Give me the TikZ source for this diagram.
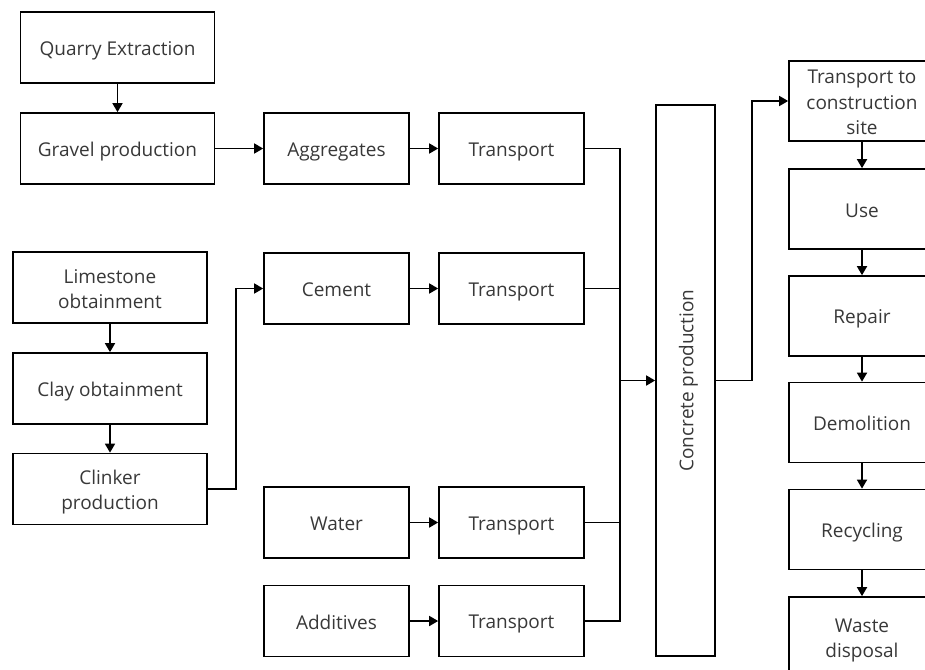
\documentclass[tikz,border=0pt]{standalone}
\usepackage{fontspec}
\setmainfont{Open Sans}
\usetikzlibrary{arrows.meta}
% line strut: 20.5pt above the baseline, 4.5pt below
\newcommand{\ls}{\rule[-4.5pt]{0pt}{25pt}}
\begin{document}
\begin{tikzpicture}[x=1pt,y=-1pt,
  box/.style={draw=black,line width=1.7pt,text=black!78,align=center,
    inner sep=0pt,font=\fontsize{19}{25}\selectfont},
  lbox/.style={box,minimum width=194pt,minimum height=71pt},
  mbox/.style={box,minimum width=145pt,minimum height=71pt},
  rbox/.style={box,minimum width=146pt,minimum height=80pt},
  link/.style={line width=1.7pt,draw=black},
  arr/.style={link,-{Triangle[length=9pt,width=10pt]}}]
\useasboundingbox (0,0) rectangle (925,669);
\clip (0,0) rectangle (925,669);

% aggregate branch
\node[lbox] (quarry) at (117.5,47.5) {\ls Quarry Extraction};
\node[lbox] (gravel) at (117.5,148.5) {\ls Gravel production};
\node[mbox] (agg) at (336.5,148.5) {\ls Aggregates};
\node[mbox] (t1) at (511.5,148.5) {\ls Transport};

% cement branch
\node[lbox] (lime) at (110,287.5) {\ls Limestone\\\ls obtainment};
\node[lbox] (clay) at (110,388.5) {\ls Clay obtainment};
\node[lbox] (clinker) at (110,489) {\ls Clinker\\\ls production};
\node[mbox] (cement) at (336.5,288.5) {\ls Cement};
\node[mbox] (t2) at (511.5,288.5) {\ls Transport};

% water and additives
\node[mbox] (water) at (336.5,522.5) {\ls Water};
\node[mbox] (t3) at (511.5,522.5) {\ls Transport};
\node[mbox] (add) at (336.5,621) {\ls Additives};
\node[mbox] (t4) at (511.5,621) {\ls Transport};

% concrete production
\node[box,minimum width=551pt,minimum height=59pt,rotate=90] (conc) at (685.5,380.5) {\ls Concrete production};

% life cycle column
\node[rbox] (tcs) at (862,101) {\ls Transport to\\\ls construction\\\ls site};
\node[rbox] (use) at (862,209) {\ls Use};
\node[rbox] (rep) at (862,316) {\ls Repair};
\node[rbox] (dem) at (862,422.5) {\ls Demolition};
\node[rbox] (rec) at (862,529.5) {\ls Recycling};
\node[rbox] (waste) at (862,637) {\ls Waste\\\ls disposal};

% routing points
\coordinate (jx) at (620,380.5);
\coordinate (cx) at (236,489);
\coordinate (ox) at (752,380.5);

% connectors
\draw[arr] (quarry) -- (gravel);
\draw[arr] (gravel) -- (agg);
\draw[arr] (agg) -- (t1);
\draw[arr] (lime) -- (clay);
\draw[arr] (clay) -- (clinker);
\draw[arr] (clinker.east) -- (cx) |- (cement.west);
\draw[arr] (cement) -- (t2);
\draw[arr] (water) -- (t3);
\draw[arr] (add) -- (t4);

\draw[link] (t1.east) -- (t1.east -| jx) -- (t4.east -| jx) -- (t4.east);
\draw[link] (t2.east) -- (t2.east -| jx);
\draw[link] (t3.east) -- (t3.east -| jx);
\draw[arr] (jx) -- (conc.north);

\draw[arr] (conc.south) -- (ox) |- (tcs.west);
\draw[arr] (tcs) -- (use);
\draw[arr] (use) -- (rep);
\draw[arr] (rep) -- (dem);
\draw[arr] (dem) -- (rec);
\draw[arr] (rec) -- (waste);
\end{tikzpicture}
\end{document}
